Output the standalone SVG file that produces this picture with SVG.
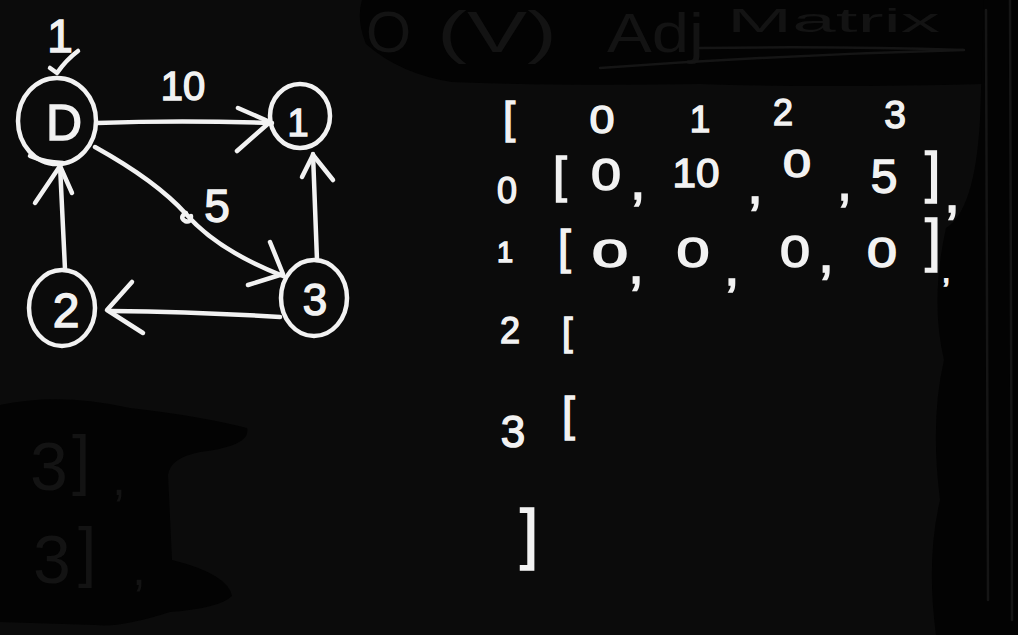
<svg xmlns="http://www.w3.org/2000/svg" width="1018" height="635" viewBox="0 0 1018 635">
<style>
.bg{fill:#0b0b0b}
.erase{fill:#030303}
.ghost{fill:#131313;font-family:"Liberation Sans",Arial,sans-serif}
.gline{fill:none;stroke:#151515;stroke-width:2.5;stroke-linecap:round}
.ink{fill:none;stroke:#f2f2f2;stroke-width:4.5;stroke-linecap:round;stroke-linejoin:round}
.t{fill:#f2f2f2;stroke:#f2f2f2;stroke-width:1.4;font-family:"Liberation Sans",Arial,sans-serif;text-anchor:middle}
.ts{fill:#f2f2f2;stroke:#f2f2f2;stroke-width:1.4;font-family:"Liberation Sans",Arial,sans-serif}
</style>
<rect class="bg" x="0" y="0" width="1018" height="635"/>

<!-- erased areas -->
<g id="erased">
  <path class="erase" d="M362,0 L1000,0 Q990,40 982,84 Q820,88 700,84 Q560,86 452,82 Q400,74 366,44 Q356,20 362,0 Z"/>
  <path class="erase" d="M0,405 Q60,392 130,408 Q200,416 247,428 Q252,446 200,452 Q170,458 168,475 L172,560 Q228,574 232,596 Q220,608 170,612 Q120,628 96,625 L0,622 Z"/>
  <path class="erase" d="M984,0 L1018,0 L1018,635 L936,635 Q926,560 940,500 Q930,420 944,360 Q930,300 946,228 Q975,210 980,120 Z"/>
  <path class="gline" d="M986,10 L988,600 M1010,0 L1012,620"/>
</g>

<!-- ghost (erased) writing -->
<g id="ghost">
  <text class="ghost" x="366" y="52" font-size="58">O</text>
  <text class="ghost" x="437" y="52" font-size="58" textLength="120" lengthAdjust="spacingAndGlyphs">(V)</text>
  <text class="ghost" x="607" y="52" font-size="56" textLength="97" lengthAdjust="spacingAndGlyphs">Adj</text>
  <text class="ghost" x="727" y="32" font-size="34" textLength="213" lengthAdjust="spacingAndGlyphs">Matrix</text>
  <path class="gline" d="M600,68 Q780,55 964,50 M700,48 Q840,46 963,50"/>
  <text class="ghost" x="30" y="490" font-size="68">3</text>
  <text class="ghost" x="72" y="482" font-size="66">]</text>
  <text class="ghost" x="112" y="495" font-size="50">,</text>
  <text class="ghost" x="33" y="583" font-size="68">3</text>
  <text class="ghost" x="78" y="574" font-size="66">]</text>
  <text class="ghost" x="132" y="585" font-size="50">,</text>
</g>

<!-- connectors -->
<g id="connectors">
  <!-- 0 -> 1 -->
  <path class="ink" d="M97,123 Q180,120 272,123"/>
  <path class="ink" d="M238,108 L270,122 L237,151"/>
  <!-- 0 -> 3 -->
  <path class="ink" d="M95,147 C140,172 168,194 186,214 C212,244 250,263 283,276"/>
  <path class="ink" d="M186,213 q-7,4 -1,8 q6,2 6,-5"/>
  <path class="ink" d="M270,242 L283,274 L248,285"/>
  <!-- 2 -> 0 -->
  <path class="ink" d="M65,269 L60,165"/>
  <path class="ink" d="M35,203 L60,166 L72,193"/>
  <!-- 3 -> 1 -->
  <path class="ink" d="M317,260 L313,154"/>
  <path class="ink" d="M302,177 L313,155 L333,180"/>
  <!-- 3 -> 2 -->
  <path class="ink" d="M280,317 Q200,312 110,311"/>
  <path class="ink" d="M132,282 L107,310 L143,333"/>
  <!-- self weight mark on 0 -->
  <path class="ink" d="M50,68 L57,73 Q66,60 78,51"/>
</g>
<text class="t" x="60" y="52" font-size="46">1</text>
<text class="t" x="183" y="100" font-size="40">10</text>
<text class="t" x="217" y="222" font-size="46">5</text>

<!-- nodes -->
<g id="node0">
  <ellipse class="ink" cx="57" cy="121" rx="39" ry="43"/>
  <path class="ink" d="M30,156 Q44,162 63,163"/>
  <text class="t" x="64" y="140" font-size="50">D</text>
</g>
<g id="node1">
  <ellipse class="ink" cx="300" cy="116" rx="30" ry="32"/>
  <text class="t" x="298" y="136" font-size="38">1</text>
</g>
<g id="node2">
  <ellipse class="ink" cx="62" cy="308" rx="33" ry="38"/>
  <text class="t" x="66" y="327" font-size="48">2</text>
</g>
<g id="node3">
  <ellipse class="ink" cx="314" cy="298" rx="33" ry="38"/>
  <text class="t" x="315" y="315" font-size="44">3</text>
</g>

<!-- adjacency matrix -->
<g id="matrix">
  <!-- header -->
  <text class="ts" x="503" y="133" font-size="44">[</text>
  <text class="t" x="602" y="133" font-size="39" textLength="25" lengthAdjust="spacingAndGlyphs">0</text>
  <text class="t" x="700" y="132" font-size="37">1</text>
  <text class="t" x="783" y="125" font-size="36">2</text>
  <text class="t" x="895" y="128" font-size="39">3</text>
  <!-- row 0 -->
  <text class="t" x="507" y="203" font-size="36">0</text>
  <text class="ts" x="553" y="192" font-size="50">[</text>
  <text class="t" x="606" y="190" font-size="44" textLength="30" lengthAdjust="spacingAndGlyphs">0</text>
  <text class="ts" x="630" y="199" font-size="56">,</text>
  <text class="t" x="696" y="187" font-size="40" textLength="47" lengthAdjust="spacingAndGlyphs">10</text>
  <text class="ts" x="747" y="203" font-size="58">,</text>
  <text class="t" x="797" y="177" font-size="38" textLength="28" lengthAdjust="spacingAndGlyphs">0</text>
  <text class="ts" x="837" y="200" font-size="54">,</text>
  <text class="t" x="884" y="193" font-size="48">5</text>
  <text class="ts" x="925" y="191" font-size="55">]</text>
  <text class="ts" x="944" y="212" font-size="58">,</text>
  <!-- row 1 -->
  <text class="t" x="505" y="262" font-size="29">1</text>
  <text class="ts" x="558" y="263" font-size="46">[</text>
  <text class="t" x="610" y="267" font-size="38" textLength="36" lengthAdjust="spacingAndGlyphs">0</text>
  <text class="ts" x="628" y="283" font-size="58">,</text>
  <text class="t" x="693" y="267" font-size="42" textLength="33" lengthAdjust="spacingAndGlyphs">0</text>
  <text class="ts" x="724" y="285" font-size="56">,</text>
  <text class="t" x="795" y="267" font-size="44" textLength="30" lengthAdjust="spacingAndGlyphs">0</text>
  <text class="ts" x="818" y="272" font-size="58">,</text>
  <text class="t" x="882" y="267" font-size="42" textLength="30" lengthAdjust="spacingAndGlyphs">0</text>
  <text class="ts" x="925" y="260" font-size="57">]</text>
  <text class="ts" x="942" y="282" font-size="30">,</text>
  <!-- rows 2, 3 -->
  <text class="t" x="510" y="343" font-size="36">2</text>
  <text class="ts" x="562" y="345" font-size="38">[</text>
  <text class="t" x="513" y="447" font-size="44">3</text>
  <text class="ts" x="562" y="430" font-size="46">[</text>
  <!-- closing bracket -->
  <text class="ts" x="520" y="556" font-size="66">]</text>
</g>
</svg>
